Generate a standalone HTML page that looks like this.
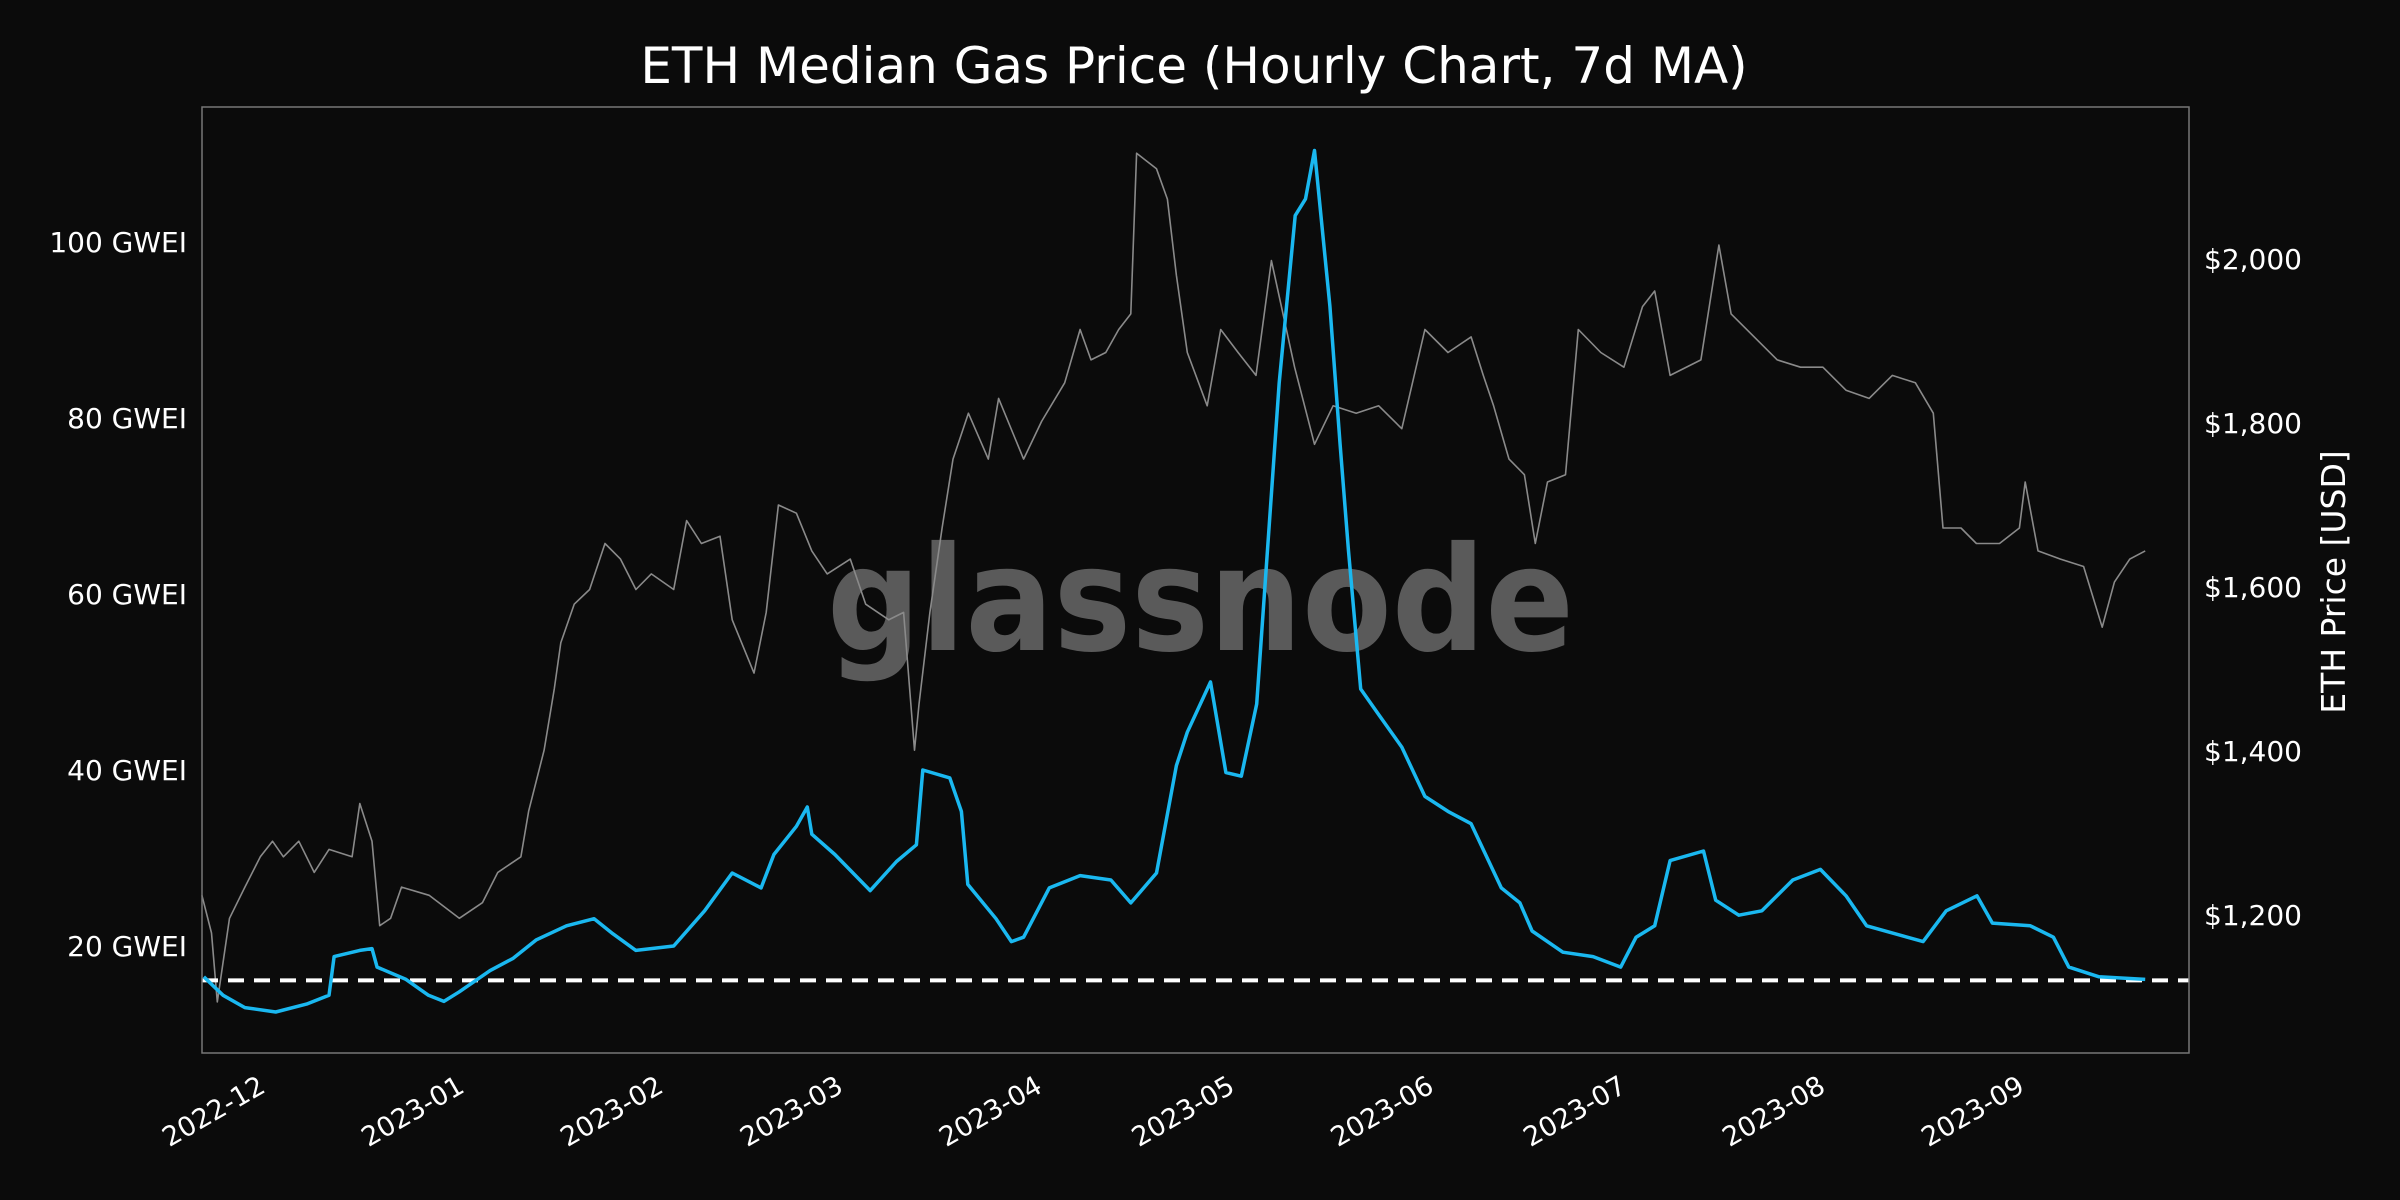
<!DOCTYPE html>
<html><head><meta charset="utf-8"><style>
html,body{margin:0;padding:0;background:#0b0b0b;}
svg{display:block;font-family:"DejaVu Sans","Liberation Sans",sans-serif;}
</style></head><body>
<svg id="chart" width="2400" height="1200" viewBox="0 0 2400 1200" xmlns="http://www.w3.org/2000/svg">
<rect x="0" y="0" width="2400" height="1200" fill="#0b0b0b"/>
<text x="1194" y="83" fill="#ffffff" font-size="50" text-anchor="middle">ETH Median Gas Price (Hourly Chart, 7d MA)</text>
<text x="827" y="650" fill="#5a5a5a" font-size="145" font-weight="bold" textLength="747" lengthAdjust="spacingAndGlyphs">glassnode</text>
<g id="marks"></g>
<rect x="202" y="107" width="1987" height="946" fill="none" stroke="#777" stroke-width="1.5"/>
<text transform="translate(2345,582) rotate(-90)" fill="#ffffff" font-size="33" text-anchor="middle">ETH Price [USD]</text>
<g id="axes"></g>
</svg>
<script>
// days since 2022-12-01
const gasDays=[-10,-7,-3.6,1.2,6,9.5,10.3,14.3,16.2,17,21.5,25,27.4,29.8,34.6,38.2,41.8,46.5,50.8,53.7,57.3,63.2,68,72.3,76.8,78.8,82.3,84,84.7,88.3,93.8,97.9,101,102,106.2,108,109,113.4,115.8,117.7,121.7,126.5,131.3,134.4,138.4,141.5,143.2,146.8,149.2,151.6,154,157.5,160,161.6,163,165.4,167,168.3,170.2,173,176.6,180.2,183.8,187.4,192.1,195,196.9,201.7,206.4,210.7,213.1,216,218.4,223.6,225.5,229.1,232.7,237.5,241.8,245.8,249,257.8,261.4,266.2,268.6,274.5,278.1,280.5,285.2,292.4];
const gasValues=[16.5,14.4,13.0,12.5,13.4,14.4,18.8,19.5,19.7,17.6,16.2,14.4,13.7,14.8,17.2,18.6,20.7,22.3,23.1,21.4,19.5,20,24,28.3,26.6,30.4,33.6,35.8,32.7,30.4,26.3,29.6,31.5,40,39.1,35.3,27,23.1,20.5,21,26.6,28,27.5,24.9,28.3,40.5,44.3,50,39.7,39.3,47.5,84,103,104.9,110.4,92.7,77,64.9,49.2,46.3,42.6,37,35.3,33.9,26.6,24.9,21.7,19.3,18.8,17.6,21,22.3,29.7,30.8,25.2,23.5,24,27.5,28.7,25.7,22.3,20.5,24,25.7,22.6,22.3,21,17.6,16.5,16.2];
const priceDays=[-10.3,-8.8,-7.9,-6,-3.6,-1.2,0.7,2.4,4.8,7.2,9.5,13.1,14.3,16.2,17.4,19.1,20.8,25.1,29.8,33.4,35.8,39.4,40.6,43,44.6,45.6,47.7,50.1,52.5,54.9,57.3,59.7,63.2,65.2,67.5,70.4,72.3,75.7,77.6,79.5,82.3,84.7,87.1,90.7,93.1,96.7,99,100.7,101.4,103.1,105,106.7,109.1,112.2,113.8,117.7,120.5,124.1,126.5,128.2,130.5,132.5,134.4,135.3,138.4,140.1,141.5,143.2,146.3,148.4,151.1,153.9,156.3,159.9,163,165.9,169.5,173,176.6,180.2,183.8,187.4,189.3,190.9,193.3,195.7,197.4,199.3,202.1,204.1,207.6,211.2,214.1,216,218.4,223.2,226,227.9,231.5,235.1,238.7,242.2,245.8,249.4,253,256.6,259.4,260.9,263.7,266.1,269.7,272.8,273.7,275.7,279.2,282.8,285.7,287.6,290,292.4];
const priceValues=[1224,1178,1094,1196,1234,1271,1290,1271,1290,1252,1280,1271,1336,1290,1187,1196,1234,1224,1196,1215,1252,1271,1327,1401,1476,1532,1579,1597,1653,1634,1597,1616,1597,1681,1653,1662,1560,1495,1569,1700,1690,1644,1616,1634,1579,1560,1569,1401,1457,1569,1672,1756,1812,1756,1830,1756,1802,1849,1914,1877,1886,1914,1933,2129,2110,2073,1980,1886,1821,1914,1886,1858,1998,1868,1774,1821,1812,1821,1793,1914,1886,1905,1858,1821,1756,1737,1653,1728,1737,1914,1886,1868,1942,1961,1858,1877,2017,1933,1905,1877,1868,1868,1840,1830,1858,1849,1812,1672,1672,1653,1653,1672,1728,1644,1634,1625,1551,1606,1634,1644];
const gasTicks=[20,40,60,80,100];
const gasTickLabels=["20 GWEI","40 GWEI","60 GWEI","80 GWEI","100 GWEI"];
const priceTicks=[1200,1400,1600,1800,2000];
const priceTickLabels=["$1,200","$1,400","$1,600","$1,800","$2,000"];
const monthTickDays=[0,31,62,90,121,151,182,212,243,274];
const monthTickLabels=["2022-12","2023-01","2023-02","2023-03","2023-04","2023-05","2023-06","2023-07","2023-08","2023-09"];
const baselineGas=[16.1];

const NS="http://www.w3.org/2000/svg";
const x=d=>268+d*6.42;
const yL=g=>946-(g-20)*8.8;
const yR=p=>915-(p-1200)*0.82;
const marks=document.getElementById('marks'), axes=document.getElementById('axes');
function mk(tag,attrs,parent){const e=document.createElementNS(NS,tag);for(const k in attrs)e.setAttribute(k,attrs[k]);parent.appendChild(e);return e;}

let pp=priceDays.map((d,i)=>x(d).toFixed(1)+','+yR(priceValues[i]).toFixed(1)).join(' ');
const priceLine=mk('polyline',{points:pp,fill:'none',stroke:'#8a8a8a','stroke-width':1.6,'stroke-linejoin':'round'},marks);



const base=mk('line',{x1:202,x2:2189,y1:yL(baselineGas[0]),y2:yL(baselineGas[0]),stroke:'#ffffff','stroke-width':4,'stroke-dasharray':'16,10'},marks);



let gp=gasDays.map((d,i)=>x(d).toFixed(1)+','+yL(gasValues[i]).toFixed(1)).join(' ');
const gasLine=mk('polyline',{points:gp,fill:'none',stroke:'#1ab8f0','stroke-width':3.5,'stroke-linejoin':'round'},marks);



gasTicks.forEach((g,i)=>{
  const t=mk('text',{x:187,y:yL(g)+10,fill:'#fff','font-size':28,'text-anchor':'end'},axes);
  t.textContent=gasTickLabels[i];
  
  
});
priceTicks.forEach((p,i)=>{
  const t=mk('text',{x:2204,y:yR(p)+10,fill:'#fff','font-size':28,'text-anchor':'start'},axes);
  t.textContent=priceTickLabels[i];
  
  
});
monthTickDays.forEach((d,i)=>{
  const xx=x(d);
  const t=mk('text',{transform:`translate(${xx-1},${1091}) rotate(-30)`,fill:'#fff','font-size':27,'text-anchor':'end'},axes);
  t.textContent=monthTickLabels[i];
  
  
});
</script>
</body></html>
